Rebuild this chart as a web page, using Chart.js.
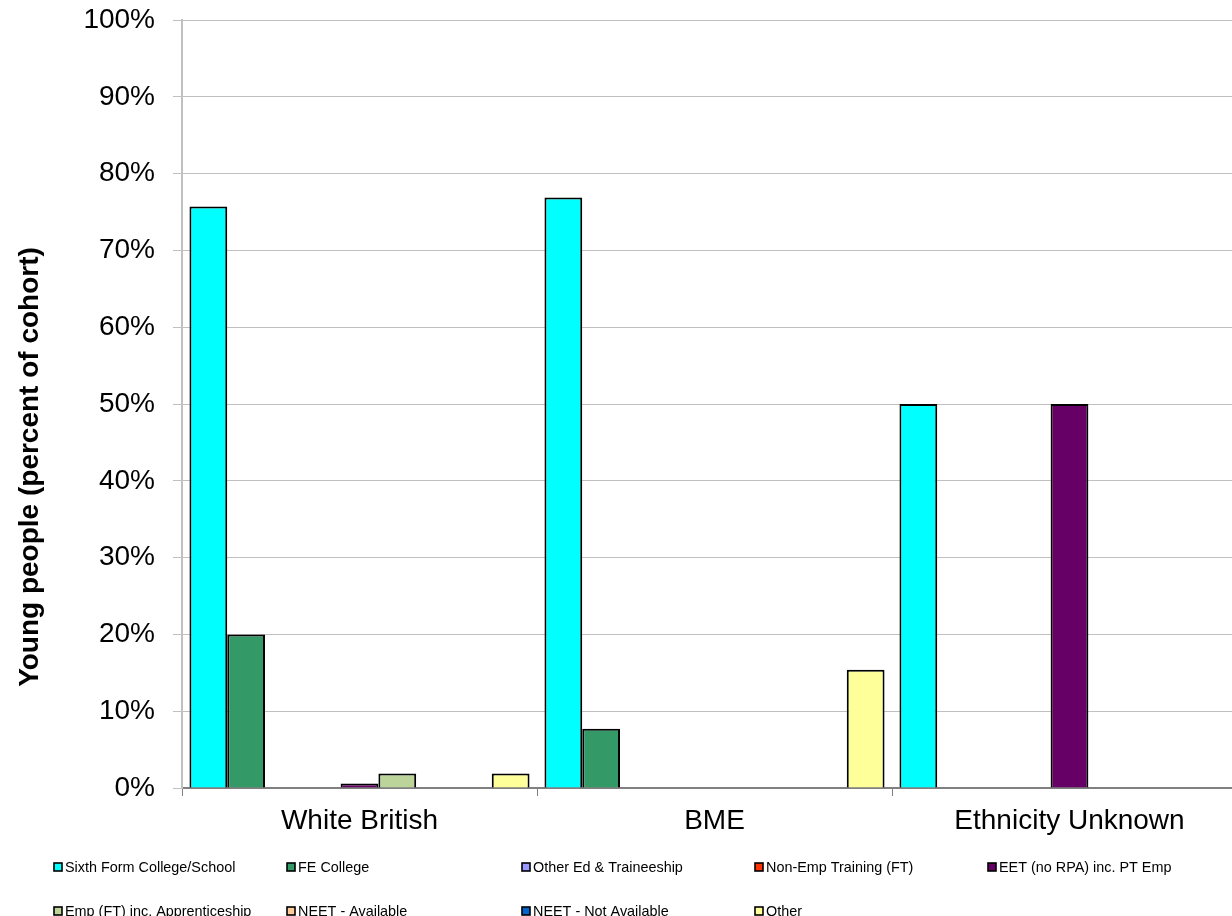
<!DOCTYPE html>
<html>
<head>
<meta charset="utf-8">
<script src="https://cdn.jsdelivr.net/npm/chart.js@4/dist/chart.umd.min.js"></script>
<style>
  html, body { margin: 0; padding: 0; background: #fff; overflow: hidden; }
  #wrap { position: absolute; left: 0; top: 0; width: 1260px; height: 916px; }
</style>
</head>
<body>
<div id="wrap"><canvas id="chart" width="1260" height="916"></canvas></div>
<script>
const categories = ['White British', 'BME', 'Ethnicity Unknown'];

const seriesNames = [
  'Sixth Form College/School',
  'FE College',
  'Other Ed & Traineeship',
  'Non-Emp Training (FT)',
  'EET (no RPA) inc. PT Emp',
  'Emp (FT) inc. Apprenticeship',
  'NEET - Available',
  'NEET - Not Available',
  'Other',
];

const seriesColors = [
  '#00ffff', '#339966', '#9999ff', '#ff3300', '#660066',
  '#bcd39a', '#ffcc99', '#0066cc', '#ffff99',
];

// percent of cohort, one array per series (White British, BME, Ethnicity Unknown)
const sixthForm   = [0.757, 0.769, 0.50];
const feCollege   = [0.200, 0.077, 0];
const otherEd     = [0, 0, 0];
const nonEmpTrain = [0, 0, 0];
const eetNoRpa    = [0.006, 0, 0.50];
const empFt       = [0.019, 0, 0];
const neetAvail   = [0, 0, 0];
const neetNotAv   = [0, 0, 0];
const other       = [0.019, 0.154, 0];

const seriesValues = [sixthForm, feCollege, otherEd, nonEmpTrain, eetNoRpa, empFt, neetAvail, neetNotAv, other];

const yTitle = 'Young people (percent of cohort)';

const FONT = 'Arial, "Liberation Sans", sans-serif';

// legend slots: 5 columns, 2 rows (marker centres)
const legendCols = [58, 291, 526, 759, 992];
const legendRows = [867, 911];

const legendPlugin = {
  id: 'excelLegend',
  afterDraw(chart) {
    const ctx = chart.ctx;
    ctx.save();
    ctx.font = '14.4px ' + FONT;
    ctx.textBaseline = 'middle';
    ctx.textAlign = 'left';
    chart.data.datasets.forEach((ds, i) => {
      const x = legendCols[i % 5];
      const y = legendRows[Math.floor(i / 5)];
      ctx.fillStyle = ds.backgroundColor;
      ctx.fillRect(x - 4, y - 4, 8, 8);
      ctx.strokeStyle = '#000';
      ctx.lineWidth = 1.6;
      ctx.strokeRect(x - 4, y - 4, 8, 8);
      ctx.fillStyle = '#000';
      ctx.fillText(ds.label, x + 7, y + 1);
    });

    // y axis title, placed like the original (a bit below the axis middle)
    ctx.translate(30, 467);
    ctx.rotate(-Math.PI / 2);
    ctx.font = 'bold 28px ' + FONT;
    ctx.textAlign = 'center';
    ctx.fillText(yTitle, 0, 0);
    ctx.restore();
  }
};

new Chart(document.getElementById('chart'), {
  type: 'bar',
  data: {
    labels: categories,
    datasets: seriesNames.map((name, i) => ({
      label: name,
      data: seriesValues[i],
      backgroundColor: seriesColors[i],
      borderColor: '#000',
      borderWidth: 2,
      categoryPercentage: 0.958,
      barPercentage: 1.0,
    })),
  },
  options: {
    responsive: false,
    animation: false,
    layout: { padding: { top: 20, right: 13, bottom: 0, left: 0 } },
    plugins: {
      legend: { display: false },
      tooltip: { enabled: false },
    },
    scales: {
      x: {
        grid: {
          offset: true,
          drawOnChartArea: false,
          drawTicks: true,
          tickLength: 8,
          color: '#808080',
          lineWidth: 1,
        },
        border: { color: '#808080', width: 2 },
        ticks: {
          color: '#000',
          font: { family: FONT, size: 28 },
          padding: 8,
          maxRotation: 0,
        },
        afterFit(scale) {
          scale.height = 128;
          scale.paddingLeft = 0;
          scale.paddingRight = 0;
        },
      },
      y: {
        min: 0,
        max: 1,
        ticks: {
          stepSize: 0.1,
          color: '#000',
          font: { family: FONT, size: 28 },
          padding: 18,
          callback: v => Math.round(v * 100) + '%',
        },
        grid: { color: '#c0c0c0', lineWidth: 1, tickLength: 9 },
        border: { color: '#c0c0c0', width: 2 },
        afterFit(scale) {
          scale.width = 182;
          scale.paddingTop = 0;
          scale.paddingBottom = 0;
        },
      },
    },
  },
  plugins: [legendPlugin],
});
</script>
</body>
</html>
